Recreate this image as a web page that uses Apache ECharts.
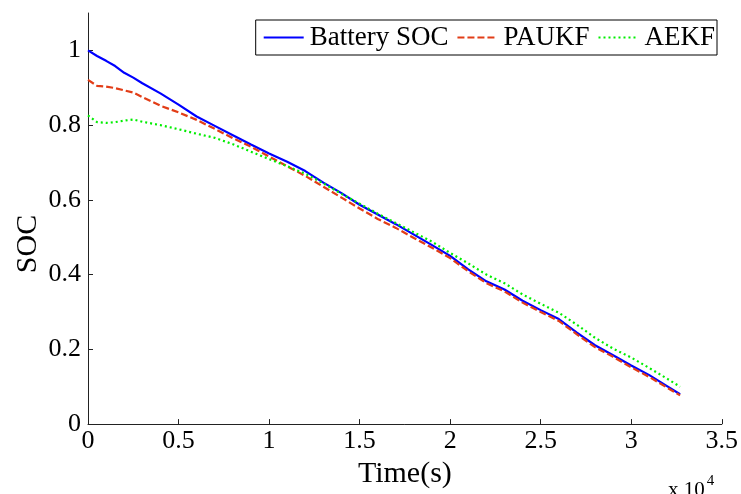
<!DOCTYPE html>
<html style="height: 100%">
<head>
    <meta charset="utf-8">
    <title>SOC</title>
    <script src="https://cdn.jsdelivr.net/npm/echarts@6/dist/echarts.min.js"></script>
</head>
<body style="height: 100%; margin: 0; background: #fff">
<div id="main" style="width: 741px; height: 494px"></div>
<script type="text/javascript">
    // time in seconds
    var timeS = [0, 500, 1000, 1500, 2000, 2500, 3000,
        4000, 5000, 6000, 7000, 8000, 9000, 10000,
        11000, 12000, 13000, 14000, 15000, 16000, 17000,
        18000, 19000, 20000, 21000, 22000, 23000, 24000,
        25000, 26000, 27000, 28000, 29000, 30000, 31000,
        32000, 32700];
    var batterySoc = [1.000, 0.985, 0.972, 0.958, 0.940, 0.927, 0.912,
        0.885, 0.855, 0.823, 0.798, 0.773, 0.748, 0.724,
        0.702, 0.677, 0.646, 0.618, 0.587, 0.561, 0.535,
        0.507, 0.479, 0.450, 0.414, 0.382, 0.360, 0.330,
        0.305, 0.281, 0.245, 0.211, 0.184, 0.157, 0.131,
        0.101, 0.080];
    var paukf = [0.921, 0.905, 0.903, 0.899, 0.893, 0.887, 0.875,
        0.852, 0.834, 0.814, 0.790, 0.765, 0.742, 0.716,
        0.690, 0.664, 0.635, 0.606, 0.577, 0.549, 0.525,
        0.498, 0.472, 0.444, 0.409, 0.377, 0.355, 0.325,
        0.300, 0.276, 0.240, 0.206, 0.180, 0.152, 0.126,
        0.097, 0.077];
    var aekf = [0.826, 0.808, 0.806, 0.808, 0.812, 0.815, 0.809,
        0.800, 0.789, 0.777, 0.766, 0.749, 0.729, 0.709,
        0.690, 0.670, 0.644, 0.616, 0.590, 0.563, 0.538,
        0.513, 0.488, 0.458, 0.430, 0.400, 0.377, 0.347,
        0.322, 0.298, 0.266, 0.231, 0.202, 0.178, 0.150,
        0.121, 0.100];
    var xTicks = [0, 0.5, 1, 1.5, 2, 2.5, 3, 3.5];   // x 10^4
    var yTicks = [0, 0.2, 0.4, 0.6, 0.8, 1];

    function pairs(vals) {
        var out = [];
        for (var i = 0; i < timeS.length; i++) {
            out.push([timeS[i], vals[i]]);
        }
        return out;
    }

    var font = "'Liberation Serif', 'Times New Roman', serif";
    var axisColor = '#222';

    var myChart = echarts.init(document.getElementById('main'));
    var option = {
        backgroundColor: '#fff',
        animation: false,
        textStyle: { fontFamily: font },
        grid: { left: 88, right: 15, top: 13, bottom: 66 },
        legend: {
            right: 24,
            top: 20,
            orient: 'horizontal',
            borderColor: '#000',
            borderWidth: 1,
            borderRadius: 0,
            padding: [4, 2, 4, 7],
            itemGap: 8,
            itemWidth: 40,
            itemHeight: 14,
            itemStyle: { opacity: 0 },
            textStyle: { fontFamily: font, fontSize: 27, color: '#000', padding: [0, 0, 0, 1] },
            data: ['Battery SOC', 'PAUKF', 'AEKF']
        },
        xAxis: {
            type: 'value',
            min: 0,
            max: 35000,
            interval: 5000,
            name: 'Time(s)',
            nameLocation: 'middle',
            nameGap: 29,
            nameTextStyle: { fontFamily: font, fontSize: 30, color: '#000' },
            splitLine: { show: false },
            axisLine: { lineStyle: { color: axisColor, width: 1 } },
            axisTick: { inside: true, length: 5, lineStyle: { color: axisColor } },
            axisLabel: {
                customValues: xTicks.map(function (v) { return v * 10000; }),
                formatter: function (v) { return String(v / 10000); },
                fontFamily: font, fontSize: 26, color: '#000', margin: 4
            }
        },
        yAxis: {
            type: 'value',
            min: 0,
            max: 1.1,
            splitLine: { show: false },
            axisLine: { show: true, lineStyle: { color: axisColor, width: 1 } },
            axisTick: { show: true, inside: true, length: 5, customValues: yTicks, lineStyle: { color: axisColor } },
            axisLabel: {
                customValues: yTicks,
                formatter: function (v) { return String(Math.round(v * 10) / 10); },
                fontFamily: font, fontSize: 26, color: '#000', margin: 7
            }
        },
        graphic: [{
            type: 'text',
            x: 28,
            y: 244,
            rotation: Math.PI / 2,
            style: {
                text: 'SOC',
                fontFamily: font,
                fontSize: 30,
                fill: '#000',
                align: 'center',
                verticalAlign: 'middle'
            }
        }, {
            type: 'text',
            left: 668,
            top: 474,
            style: {
                text: '{b|x 10}{s|4}',
                rich: {
                    b: { fontFamily: font, fontSize: 21, fill: '#000', padding: [6, 0, 0, 0] },
                    s: { fontFamily: font, fontSize: 15, fill: '#000', verticalAlign: 'top', padding: [0, 0, 10, 2] }
                }
            }
        }],
        series: [
            {
                name: 'Battery SOC',
                type: 'line',
                symbol: 'none',
                data: pairs(batterySoc),
                lineStyle: { color: '#0000ff', width: 2.2 },
                itemStyle: { color: '#0000ff' }
            },
            {
                name: 'PAUKF',
                type: 'line',
                symbol: 'none',
                data: pairs(paukf),
                lineStyle: { color: '#e23d17', width: 2.2, type: [7, 3] },
                itemStyle: { color: '#e23d17' }
            },
            {
                name: 'AEKF',
                type: 'line',
                symbol: 'none',
                data: pairs(aekf),
                lineStyle: { color: '#00ee00', width: 2.2, type: [2, 3] },
                itemStyle: { color: '#00ee00' }
            }
        ]
    };
    myChart.setOption(option);
</script>
</body>
</html>
